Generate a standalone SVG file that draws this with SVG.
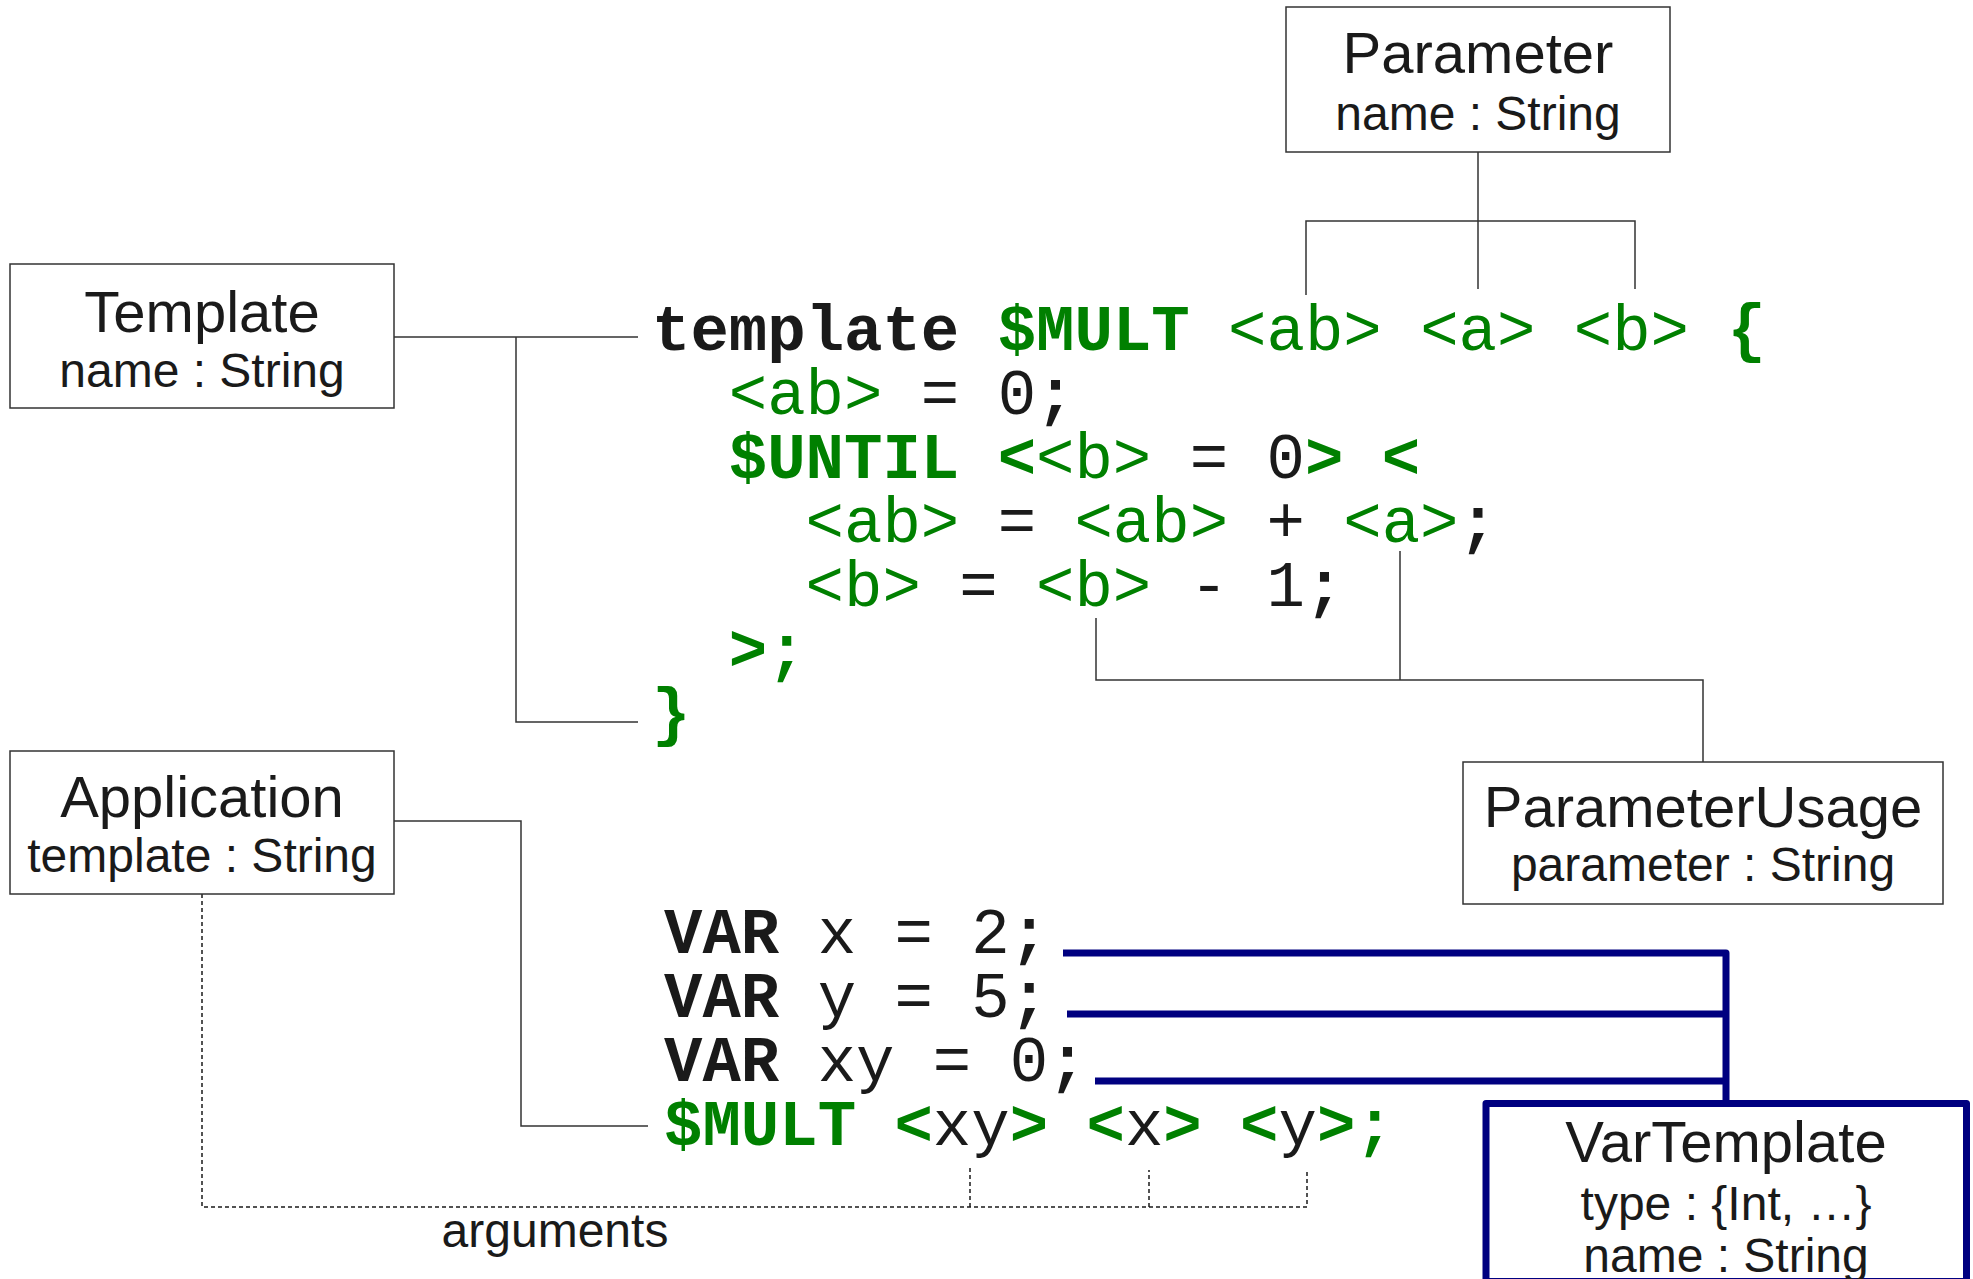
<svg xmlns="http://www.w3.org/2000/svg" width="1973" height="1279" viewBox="0 0 1973 1279">
  <style>
    .box { fill: #ffffff; stroke: #333333; stroke-width: 1.5; }
    .vbox { fill: #ffffff; stroke: #000080; stroke-width: 7; stroke-linejoin: round; }
    .title { font-family: "Liberation Sans", Arial, sans-serif; font-size: 58px; fill: #1a1a1a; text-anchor: middle; }
    .attr { font-family: "Liberation Sans", Arial, sans-serif; font-size: 48px; fill: #1a1a1a; text-anchor: middle; }
    .link { fill: none; stroke: #333333; stroke-width: 1.5; }
    .dot { fill: none; stroke: #1a1a1a; stroke-width: 1.5; stroke-dasharray: 4 3; }
    .var { fill: none; stroke: #000080; stroke-width: 7; stroke-linejoin: round; }
    .code { font-family: "Liberation Mono", "Courier New", monospace; font-size: 64px; fill: #1a1a1a; white-space: pre; }
    .k { fill: #1a1a1a; }
    .kb { fill: #1a1a1a; font-weight: bold; }
    .g { fill: #008000; }
    .gb { fill: #008000; font-weight: bold; }
  </style>

  <!-- connectors -->
  <g id="connectors">
    <!-- Parameter to its three declarations -->
    <path class="link" d="M1478,152 V221 M1306,295 V221 H1635 V289 M1478,221 V289"/>
    <!-- Template to the template body -->
    <path class="link" d="M394,337 H638 M516,337 V722 H638"/>
    <!-- Application to the call -->
    <path class="link" d="M394,821 H521 V1126 H648"/>
    <!-- ParameterUsage to the uses -->
    <path class="link" d="M1703,762 V680 H1096 V618 M1400,680 V551"/>
    <!-- arguments -->
    <path class="dot" d="M202,894 V1207 H1307 V1172 M970,1207 V1168 M1149,1207 V1170"/>
    <!-- VarTemplate to the declarations -->
    <path class="var" d="M1063,953 H1726 V1103 M1067,1014 H1726 M1095,1081 H1726"/>
  </g>

  <!-- template source; indentation is set by x (one column = 38.4px) -->
  <g id="template-code" class="code" xml:space="preserve">
    <text x="652" y="350"><tspan class="kb">template</tspan> <tspan class="gb">$MULT</tspan> <tspan class="g">&lt;ab&gt;</tspan> <tspan class="g">&lt;a&gt;</tspan> <tspan class="g">&lt;b&gt;</tspan> <tspan class="gb">{</tspan></text>
    <text x="728.8" y="414"><tspan class="g">&lt;ab&gt;</tspan> <tspan class="k">=</tspan> <tspan class="k">0</tspan><tspan class="kb">;</tspan></text>
    <text x="728.8" y="478"><tspan class="gb">$UNTIL</tspan> <tspan class="gb">&lt;</tspan><tspan class="g">&lt;b&gt;</tspan> <tspan class="k">=</tspan> <tspan class="k">0</tspan><tspan class="gb">&gt;</tspan> <tspan class="gb">&lt;</tspan></text>
    <text x="805.6" y="542"><tspan class="g">&lt;ab&gt;</tspan> <tspan class="k">=</tspan> <tspan class="g">&lt;ab&gt;</tspan> <tspan class="k">+</tspan> <tspan class="g">&lt;a&gt;</tspan><tspan class="kb">;</tspan></text>
    <text x="805.6" y="606"><tspan class="g">&lt;b&gt;</tspan> <tspan class="k">=</tspan> <tspan class="g">&lt;b&gt;</tspan> <tspan class="k">-</tspan> <tspan class="k">1</tspan><tspan class="kb">;</tspan></text>
    <text x="728.8" y="670"><tspan class="gb">&gt;;</tspan></text>
    <text x="652" y="734"><tspan class="gb">}</tspan></text>
  </g>

  <!-- variable declarations and call -->
  <g id="call-code" class="code" xml:space="preserve">
    <text x="664" y="953"><tspan class="kb">VAR</tspan> <tspan class="k">x</tspan> <tspan class="k">=</tspan> <tspan class="k">2</tspan><tspan class="kb">;</tspan></text>
    <text x="664" y="1017"><tspan class="kb">VAR</tspan> <tspan class="k">y</tspan> <tspan class="k">=</tspan> <tspan class="k">5</tspan><tspan class="kb">;</tspan></text>
    <text x="664" y="1081"><tspan class="kb">VAR</tspan> <tspan class="k">xy</tspan> <tspan class="k">=</tspan> <tspan class="k">0</tspan><tspan class="kb">;</tspan></text>
    <text x="664" y="1145"><tspan class="gb">$MULT</tspan> <tspan class="gb">&lt;</tspan><tspan class="k">xy</tspan><tspan class="gb">&gt;</tspan> <tspan class="gb">&lt;</tspan><tspan class="k">x</tspan><tspan class="gb">&gt;</tspan> <tspan class="gb">&lt;</tspan><tspan class="k">y</tspan><tspan class="gb">&gt;;</tspan></text>
  </g>

  <!-- classes -->
  <g id="node-parameter">
    <rect class="box" x="1286" y="7" width="384" height="145"/>
    <text class="title" x="1478" y="73">Parameter</text>
    <text class="attr" x="1478" y="130">name : String</text>
  </g>

  <g id="node-template">
    <rect class="box" x="10" y="264" width="384" height="144"/>
    <text class="title" x="202" y="332">Template</text>
    <text class="attr" x="202" y="387">name : String</text>
  </g>

  <g id="node-application">
    <rect class="box" x="10" y="751" width="384" height="143"/>
    <text class="title" x="202" y="817">Application</text>
    <text class="attr" x="202" y="872">template : String</text>
  </g>

  <g id="node-parameterusage">
    <rect class="box" x="1463" y="762" width="480" height="142"/>
    <text class="title" x="1703" y="827">ParameterUsage</text>
    <text class="attr" x="1703" y="881">parameter : String</text>
  </g>

  <g id="node-vartemplate">
    <rect class="vbox" x="1486" y="1103.5" width="480.5" height="178"/>
    <text class="title" x="1726" y="1162">VarTemplate</text>
    <text class="attr" x="1726" y="1220">type : {Int, &#8230;}</text>
    <text class="attr" x="1726" y="1272">name : String</text>
  </g>

  <g id="label-arguments">
    <text class="attr" x="555" y="1247">arguments</text>
  </g>
</svg>
